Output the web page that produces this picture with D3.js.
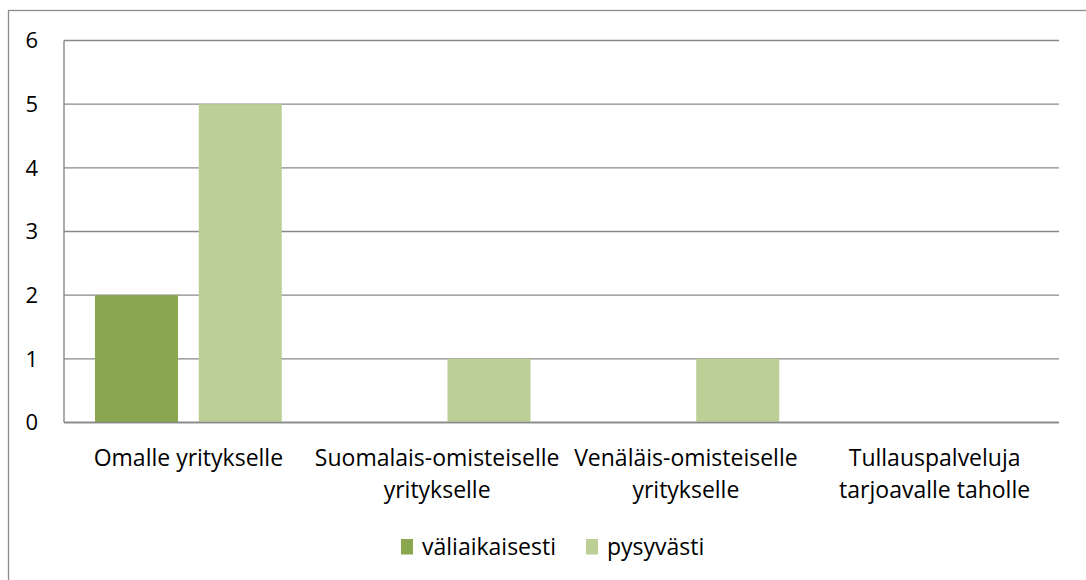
<!DOCTYPE html>
<html>
<head>
<meta charset="utf-8">
<script src="https://cdn.jsdelivr.net/npm/d3@7"></script>
<style>
  body { margin: 0; background: #fff; }
  svg text { font-family: "Open Sans", "Noto Sans", sans-serif; fill: #000; }
</style>
</head>
<body>
<div id="chart"></div>
<script>
// chart data
var categories = [
    ["Omalle yritykselle"],
    ["Suomalais-omisteiselle", "yritykselle"],
    ["Venäläis-omisteiselle", "yritykselle"],
    ["Tullauspalveluja", "tarjoavalle taholle"]
];
var seriesNames = ["väliaikaisesti", "pysyvästi"];
var valiaikaisesti = [2, 0, 0, 0];
var pysyvasti = [5, 1, 1, 0];
var yTicks = [0, 1, 2, 3, 4, 5, 6];
var colors = ["#8aa64e", "#bbcf97"];

var width = 1086, height = 580;
var margin = { top: 40.5, right: 27, bottom: 157.5, left: 64 };
var w = width - margin.left - margin.right,
    h = height - margin.top - margin.bottom;

var svg = d3.select("#chart").append("svg")
    .attr("width", width)
    .attr("height", height);

// outer chart frame (runs off the right and bottom edges)
svg.append("rect")
    .attr("x", 8.5).attr("y", 10.5)
    .attr("width", 1200).attr("height", 700)
    .attr("fill", "none")
    .attr("stroke", "#8c8c8c")
    .attr("stroke-width", 1.3);

var g = svg.append("g")
    .attr("transform", "translate(" + margin.left + "," + margin.top + ")");

var x0 = d3.scaleBand()
    .domain(d3.range(categories.length))
    .range([0, w])
    .paddingInner(0)
    .paddingOuter(0);

var x1 = d3.scaleBand()
    .domain(d3.range(seriesNames.length))
    .range([31, x0.bandwidth() - 31])
    .paddingInner(0.2);

var y = d3.scaleLinear()
    .domain([0, 6])
    .range([h, 0]);

// gridlines
g.selectAll(".grid")
    .data(yTicks)
    .enter().append("line")
    .attr("class", "grid")
    .attr("x1", 0).attr("x2", w)
    .attr("y1", function(d) { return y(d); })
    .attr("y2", function(d) { return y(d); })
    .attr("stroke", "#888")
    .attr("stroke-width", 1.4);

// left axis line
g.append("line")
    .attr("x1", 0).attr("x2", 0)
    .attr("y1", 0).attr("y2", h)
    .attr("stroke", "#888")
    .attr("stroke-width", 1.4);

// y labels
g.selectAll(".ylab")
    .data(yTicks)
    .enter().append("text")
    .attr("class", "ylab")
    .attr("x", -26)
    .attr("y", function(d) { return y(d); })
    .attr("dy", "0.36em")
    .attr("text-anchor", "end")
    .style("font-size", "22px")
    .text(function(d) { return d; });

// bars
var series = [valiaikaisesti, pysyvasti];
series.forEach(function(vals, si) {
    g.selectAll(".bar" + si)
        .data(vals)
        .enter().append("rect")
        .attr("class", "bar" + si)
        .attr("x", function(d, i) { return x0(i) + x1(si); })
        .attr("width", x1.bandwidth())
        .attr("y", function(d) { return y(d); })
        .attr("height", function(d) { return h - y(d); })
        .attr("fill", colors[si]);
});

// redraw baseline on top of bars
g.append("line")
    .attr("x1", 0).attr("x2", w)
    .attr("y1", y(0)).attr("y2", y(0))
    .attr("stroke", "#888")
    .attr("stroke-width", 1.4);

// x labels
var xl = g.selectAll(".xlab")
    .data(categories)
    .enter().append("text")
    .attr("class", "xlab")
    .attr("text-anchor", "middle")
    .style("font-size", "23px")
    .attr("transform", function(d, i) {
        return "translate(" + (x0(i) + x0.bandwidth() / 2) + "," + (h + 43.5) + ")";
    });
xl.selectAll("tspan")
    .data(function(d) { return d; })
    .enter().append("tspan")
    .attr("x", 0)
    .attr("y", function(d, i) { return i * 31.5; })
    .text(function(d) { return d; });

// legend
var legendX = [401, 586];
var legend = svg.selectAll(".legend")
    .data(seriesNames)
    .enter().append("g")
    .attr("class", "legend")
    .attr("transform", function(d, i) { return "translate(" + legendX[i] + ",539)"; });
legend.append("rect")
    .attr("width", 12).attr("height", 15.5)
    .attr("fill", function(d, i) { return colors[i]; });
legend.append("text")
    .attr("x", 21)
    .attr("y", 8)
    .attr("dy", "0.36em")
    .style("font-size", "23px")
    .text(function(d) { return d; });
</script>
</body>
</html>
